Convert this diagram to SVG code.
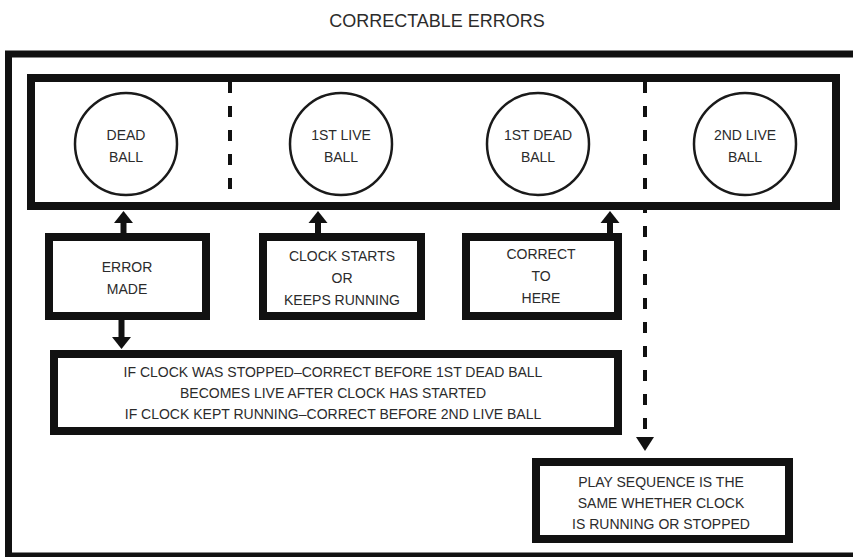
<svg xmlns="http://www.w3.org/2000/svg" width="853" height="557" viewBox="0 0 853 557">
  <defs>
    <style>
      .frame { fill: none; stroke: #111; stroke-width: 7; }
      .box { fill: #fff; stroke: #111; stroke-width: 8; }
      .ball { fill: #fff; stroke: #1a1a1a; stroke-width: 2.5; }
      .dash { stroke: #111; stroke-width: 4; stroke-dasharray: 11 13; fill: none; }
      .shaft { stroke: #111; stroke-width: 6; fill: none; }
      .head { fill: #111; }
      text { font-family: "Liberation Sans", Arial, sans-serif; fill: #2b2b2b; text-anchor: middle; }
      .t { font-size: 14px; }
      .title { font-size: 18px; }
    </style>
  </defs>
  <rect width="853" height="557" fill="#fff"/>
  <text class="title" x="437" y="27">CORRECTABLE ERRORS</text>
  <rect class="frame" x="8.5" y="54" width="900" height="502"/>

  <g id="sequence">
    <rect class="box" x="31" y="78" width="805" height="128"/>
  </g>

  <g id="dead-ball">
    <circle class="ball" cx="126" cy="144" r="51"/>
    <text class="t" x="126" y="140">DEAD</text>
    <text class="t" x="126" y="162">BALL</text>
  </g>
  <g id="first-live-ball">
    <circle class="ball" cx="341" cy="144" r="51"/>
    <text class="t" x="341" y="140">1ST LIVE</text>
    <text class="t" x="341" y="162">BALL</text>
  </g>
  <g id="first-dead-ball">
    <circle class="ball" cx="538" cy="144" r="51"/>
    <text class="t" x="538" y="140">1ST DEAD</text>
    <text class="t" x="538" y="162">BALL</text>
  </g>
  <g id="second-live-ball">
    <circle class="ball" cx="745" cy="144" r="51"/>
    <text class="t" x="745" y="140">2ND LIVE</text>
    <text class="t" x="745" y="162">BALL</text>
  </g>

  <g id="error-made">
    <rect class="box" x="49" y="237" width="157" height="79"/>
    <text class="t" x="127" y="272">ERROR</text>
    <text class="t" x="127" y="294">MADE</text>
  </g>
  <g id="clock-starts">
    <rect class="box" x="263" y="237" width="158" height="79"/>
    <text class="t" x="342" y="261">CLOCK STARTS</text>
    <text class="t" x="342" y="283">OR</text>
    <text class="t" x="342" y="305">KEEPS RUNNING</text>
  </g>
  <g id="correct-to-here">
    <rect class="box" x="466" y="237" width="152" height="79"/>
    <text class="t" x="541" y="259">CORRECT</text>
    <text class="t" x="541" y="281">TO</text>
    <text class="t" x="541" y="303">HERE</text>
  </g>
  <g id="rules">
    <rect class="box" x="54" y="354" width="564" height="77"/>
    <text class="t" x="333" y="377">IF CLOCK WAS STOPPED–CORRECT BEFORE 1ST DEAD BALL</text>
    <text class="t" x="333" y="398">BECOMES LIVE AFTER CLOCK HAS STARTED</text>
    <text class="t" x="333" y="419">IF CLOCK KEPT RUNNING–CORRECT BEFORE 2ND LIVE BALL</text>
  </g>
  <g id="play-sequence">
    <rect class="box" x="536" y="462" width="253" height="77"/>
    <text class="t" x="661" y="487">PLAY SEQUENCE IS THE</text>
    <text class="t" x="661" y="508">SAME WHETHER CLOCK</text>
    <text class="t" x="661" y="529">IS RUNNING OR STOPPED</text>
  </g>

  <g id="connectors">
    <line class="dash" x1="230" y1="82" x2="230" y2="202"/>
    <line class="dash" x1="645" y1="82" x2="645" y2="436"/>
    <polygon class="head" points="636,437 654,437 645,451"/>

    <line class="shaft" x1="123.5" y1="233" x2="123.5" y2="218"/>
    <polygon class="head" points="114,223 133,223 123.5,211"/>

    <line class="shaft" x1="318" y1="233" x2="318" y2="218"/>
    <polygon class="head" points="308.5,223 327.5,223 318,211"/>

    <line class="shaft" x1="610" y1="233" x2="610" y2="218"/>
    <polygon class="head" points="600.5,223 619.5,223 610,211"/>

    <line class="shaft" x1="121.5" y1="320" x2="121.5" y2="340"/>
    <polygon class="head" points="112,337 131,337 121.5,349"/>
  </g>
</svg>
